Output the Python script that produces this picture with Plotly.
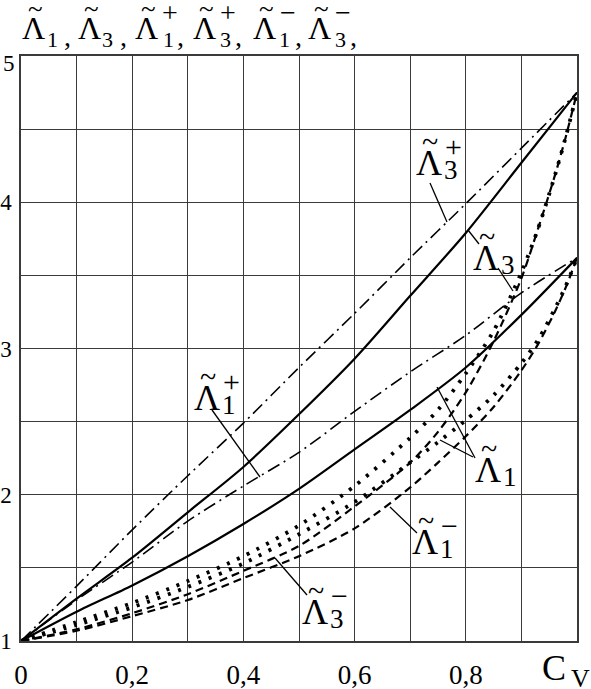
import plotly.graph_objects as go

# ---------------- data ----------------
x_main = [0, 0.1, 0.2, 0.3, 0.4, 0.5, 0.6, 0.7, 0.8, 0.9, 1.0]
lam3 = [1, 1.29, 1.57, 1.88, 2.19, 2.55, 2.93, 3.36, 3.79, 4.27, 4.75]
lam1 = [1, 1.20, 1.38, 1.58, 1.80, 2.04, 2.31, 2.58, 2.87, 3.23, 3.62]
lam3_plus = [1, 1.375, 1.76, 2.13, 2.49, 2.87, 3.24, 3.62, 3.99, 4.37, 4.75]
lam1_plus = [1, 1.28, 1.54, 1.82, 2.06, 2.29, 2.57, 2.84, 3.09, 3.38, 3.62]

x_fine = [0, 0.1, 0.2, 0.3, 0.4, 0.5, 0.6, 0.7, 0.75, 0.8, 0.85, 0.9, 0.93, 0.96, 0.98, 1.0]
lam3_dot = [1, 1.13, 1.26, 1.41, 1.58, 1.79, 2.06, 2.39, 2.58, 2.83, 3.12, 3.52, 3.82, 4.18, 4.45, 4.75]
lam1_dot = [1, 1.11, 1.23, 1.37, 1.53, 1.73, 1.95, 2.22, 2.36, 2.51, 2.68, 2.90, 3.06, 3.27, 3.43, 3.62]
lam3_minus = [1, 1.08, 1.19, 1.32, 1.48, 1.65, 1.92, 2.22, 2.43, 2.70, 3.05, 3.48, 3.82, 4.18, 4.45, 4.75]
lam1_minus = [1, 1.07, 1.17, 1.28, 1.43, 1.58, 1.77, 2.05, 2.22, 2.40, 2.60, 2.85, 3.03, 3.25, 3.42, 3.62]

x_tickvals = [0, 0.1, 0.2, 0.3, 0.4, 0.5, 0.6, 0.7, 0.8, 0.9, 1.0]
x_ticktext = ["0", "", "0,2", "", "0,4", "", "0,6", "", "0,8", "", ""]
y_tickvals = [1, 1.5, 2, 2.5, 3, 3.5, 4, 4.5, 5]
y_ticktext = ["1", "", "2", "", "3", "", "4", "", ""]

FONT = "Liberation Serif"
W, H = 591, 689
L, R, T, B = 21, 14, 56, 48

fig = go.Figure()

def add(x, y, dash, width):
    fig.add_trace(go.Scatter(x=x, y=y, mode="lines",
                             line=dict(color="black", width=width, dash=dash, shape="spline", smoothing=0.8),
                             showlegend=False, hoverinfo="skip"))

add(x_main, lam3_plus, "13px,5px,2px,5px", 1.6)
add(x_main, lam1_plus, "13px,5px,2px,5px", 1.6)
add(x_fine, lam3_minus, "8px,5px", 2.2)
add(x_fine, lam1_minus, "8px,5px", 2.2)
add(x_fine, lam3_dot, "3px,8px", 3.8)
add(x_fine, lam1_dot, "3px,8px", 3.8)
add(x_main, lam3, "solid", 2.2)
add(x_main, lam1, "solid", 2.2)

pw, ph = W - L - R, H - T - B

def P(px, py):
    # page pixel -> paper coordinates
    return (px - L) / pw, (H - B - py) / ph

annotations = []
shapes = []

def txt(px, py, text, size):
    x, y = P(px, py)
    annotations.append(dict(x=x, y=y, xref="paper", yref="paper", text=text, showarrow=False,
                            xanchor="center", yanchor="middle",
                            font=dict(family=FONT, size=size, color="black")))

def lam(cx, cy, sub, sup=None, size=36, ssize=27, psize=30):
    txt(cx, cy, "\u039b", size)
    txt(cx + 1, cy - 0.6 * size, "~", int(size * 0.85))
    d = 0.6 * size
    txt(cx + d, cy + 0.2 * size, sub, ssize)
    if sup:
        txt(cx + d + 3, cy - 0.47 * size, sup, psize)

def leader(p0, p1):
    x0, y0 = P(*p0)
    x1, y1 = P(*p1)
    shapes.append(dict(type="line", xref="paper", yref="paper", x0=x0, y0=y0, x1=x1, y1=y1,
                       line=dict(color="black", width=1.3)))

# title tokens
lefts = [22, 78, 135, 193, 253, 308]
subs = ["1", "3", "1", "3", "1", "3"]
sups = [None, None, "+", "+", "\u2212", "\u2212"]
sub_dx = [30, 29, 33, 32, 31, 32]
for s0, sb, sp, dx in zip(lefts, subs, sups, sub_dx):
    txt(s0 + 11, 28, "\u039b", 32)
    txt(s0 + 13, 9, "~", 27)
    txt(s0 + dx, 39, sb, 22)
    if sp:
        txt(s0 + 35, 12, sp, 28)
    txt(s0 + 45, 37, ",", 28)

# y label "5" sits a little below its grid line in the reference
txt(9, 64, "5", 23)

# in-plot labels
lam(429, 163, "3", "+")
lam(486, 258, "3")
lam(207, 398, "1", "+")
lam(488, 470, "1")
lam(425, 542, "1", "\u2212")
lam(315, 612, "3", "\u2212")

leader((430, 183), (447, 222))
leader((468, 230), (479, 244))
leader((498, 268), (513, 291))
leader((212, 410), (260, 477))
leader((475, 458), (437, 387))
leader((473, 457), (440, 440))
leader((417, 533), (390, 507))
leader((307, 595), (275, 558))

# C_V axis title
txt(554, 668, "C", 36)
txt(580, 678, "V", 26)

axis_common = dict(showgrid=True, gridcolor="#3a3a3a", gridwidth=1.3, showline=True, linecolor="#3a3a3a",
                   linewidth=1.5, mirror=True, zeroline=False, ticks="")

fig.update_layout(
    width=W, height=H,
    margin=dict(l=L, r=R, t=T, b=B, autoexpand=False),
    paper_bgcolor="white", plot_bgcolor="white",
    xaxis=dict(range=[0, 1], tickvals=x_tickvals, ticktext=x_ticktext, ticklabelstandoff=9,
               tickfont=dict(family=FONT, size=27, color="black"), **axis_common),
    yaxis=dict(range=[1, 5], tickvals=y_tickvals, ticktext=y_ticktext, ticklabelstandoff=3,
               tickfont=dict(family=FONT, size=23, color="black"), **axis_common),
    annotations=annotations, shapes=shapes,
)

fig.write_html("out.html", config={"displayModeBar": False},
               post_script="document.body.style.margin='0px';")
